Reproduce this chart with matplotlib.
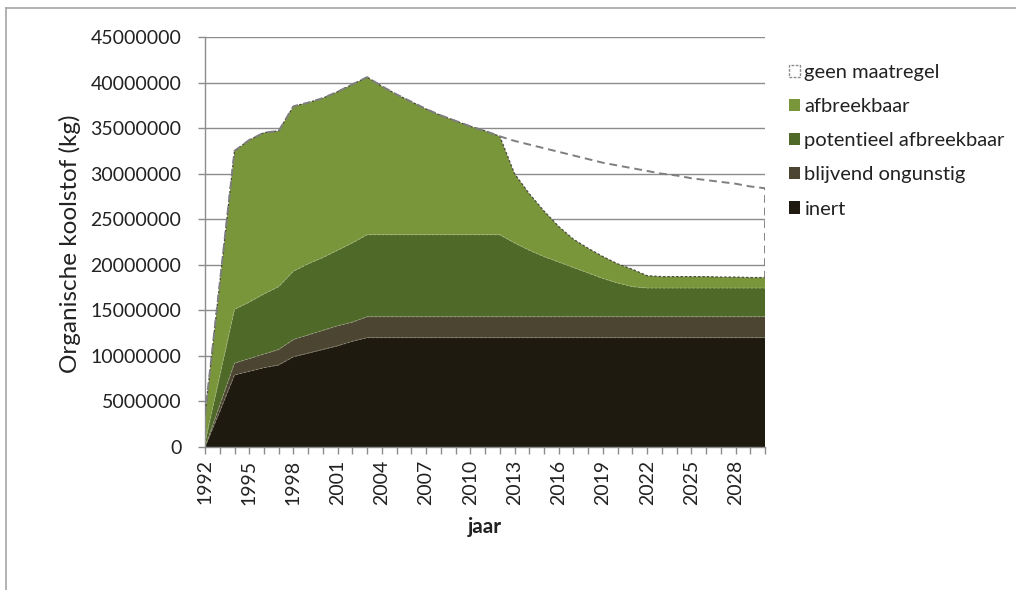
import matplotlib.pyplot as plt
import matplotlib.patches as mpatches
import matplotlib.lines as mlines
import numpy as np

plt.rcParams['font.family'] = ['Lato', 'DejaVu Sans']

# --- data (miljoen kg) ---
jaren = list(range(1992, 2031))

inert = [0.0, 3.9, 7.9, 8.3, 8.7, 9.0, 9.9, 10.3, 10.7, 11.1, 11.6, 12.0] + [12.0] * 27

blijvend = [0.0, 0.7, 1.3, 1.4, 1.5, 1.7, 1.9, 2.0, 2.1, 2.2, 2.1, 2.3] + [2.3] * 27

potentieel = ([0.5, 3.2, 5.9, 6.2, 6.6, 6.9, 7.5, 7.8, 8.0, 8.3, 8.7, 9.0]
              + [9.0] * 9
              + [8.1, 7.3, 6.6, 6.0, 5.4, 4.8, 4.2, 3.7, 3.3]
              + [3.15] * 9)

afbreekbaar = [3.0, 10.2, 17.4, 17.8, 17.7, 17.1, 18.1, 17.7, 17.5, 17.4, 17.4, 17.3,
               16.3, 15.4, 14.6, 13.8, 13.1, 12.5, 11.9, 11.4, 10.8,
               7.6, 6.2, 5.0, 3.9, 3.1, 2.7, 2.4, 2.1, 1.9, 1.35,
               1.25, 1.25, 1.25, 1.25, 1.2, 1.2, 1.15, 1.15]

geen_na_2012 = [33.6, 33.2, 32.8, 32.4, 32.0, 31.6, 31.2, 30.9, 30.6, 30.3,
                30.0, 29.8, 29.5, 29.3, 29.1, 28.9, 28.6, 28.4]

x = np.array(jaren)
lagen = np.array([inert, blijvend, potentieel, afbreekbaar]) * 1e6
totaal = lagen.sum(axis=0)
geen = np.concatenate([totaal[:21], np.array(geen_na_2012) * 1e6])

kleuren = ['#1e1a10', '#4b4531', '#4f6a28', '#7a963a']
namen = ['inert', 'blijvend ongunstig', 'potentieel afbreekbaar', 'afbreekbaar']

fig = plt.figure(figsize=(10.16, 5.9), dpi=100)
ax = fig.add_axes([0.2018, 0.2424, 0.5512, 0.6948])

# buitenrand (alleen boven en links zichtbaar)
fig.lines.append(mlines.Line2D([0.006, 1.0], [0.986, 0.986], transform=fig.transFigure,
                               color='#a6a6a6', lw=1.2))
fig.lines.append(mlines.Line2D([0.006, 0.006], [0.0, 0.986], transform=fig.transFigure,
                               color='#a6a6a6', lw=1.2))

ax.stackplot(x, lagen, colors=kleuren, linewidth=0, zorder=2)

# dunne lichte randen tussen de lagen
cum = np.cumsum(lagen, axis=0)
ax.plot(x, cum[0], color='#8a8570', lw=0.6, ls=(0, (3, 2)), zorder=3)
ax.plot(x, cum[1], color='#9a9a80', lw=0.6, ls=(0, (3, 2)), zorder=3)
ax.plot(x, cum[2], color='#a4b47a', lw=0.6, ls=(0, (3, 2)), zorder=3)
ax.plot(x, cum[3], color='#4a4a40', lw=0.9, ls=(0, (2, 1.5)), zorder=3)

# geen maatregel: gestippelde lijn
ax.plot(np.append(x, x[-1]), np.append(geen, totaal[-1]), color='#7f7f7f', lw=1.4,
        ls=(0, (4, 2.5)), zorder=4)

ax.set_xlim(1992, 2030)
ax.set_ylim(0, 45000000)
ax.set_yticks(np.arange(0, 45000001, 5000000))
ax.set_yticklabels([str(v) for v in range(0, 45000001, 5000000)])
ax.set_xticks(range(1992, 2030, 3))
ax.set_xticklabels([str(j) for j in range(1992, 2030, 3)], rotation=90)
ax.set_xticks(range(1992, 2031), minor=True)

ax.grid(axis='y', color='#8c8c8c', linewidth=1.0, zorder=0)
ax.set_axisbelow(True)
for s in ['top', 'right']:
    ax.spines[s].set_visible(False)
for s in ['left', 'bottom']:
    ax.spines[s].set_color('#8c8c8c')
    ax.spines[s].set_linewidth(1.0)
ax.tick_params(axis='both', which='both', color='#8c8c8c', length=5, width=1,
               labelsize=14, labelcolor='#222222')
ax.tick_params(axis='y', pad=12)
ax.tick_params(axis='x', pad=4)

ax.set_ylabel('Organische koolstof (kg)', fontsize=17.5, color='#222222', labelpad=0)
ax.yaxis.set_label_coords(-0.222, 0.495)
ax.set_xlabel('jaar', fontsize=15, fontweight='bold', color='#222222', labelpad=9)

handles = [mpatches.Patch(facecolor='white', edgecolor='#8c8c8c', linestyle=(0, (2, 1)),
                          label='geen maatregel')]
for kl, nm in zip(kleuren[::-1], namen[::-1]):
    handles.append(mpatches.Patch(facecolor=kl, edgecolor='none', label=nm))
fig.legend(handles=handles, loc='upper left', bbox_to_anchor=(0.769, 0.905), frameon=False,
           fontsize=14.5, handlelength=0.55, handleheight=0.55, handletextpad=0.2,
           labelspacing=0.85, labelcolor='#222222', borderaxespad=0)

fig.savefig('out.png', dpi=100)
